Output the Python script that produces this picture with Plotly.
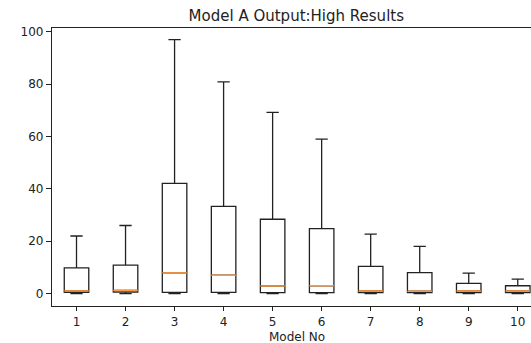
import plotly.graph_objects as go

models = [1, 2, 3, 4, 5, 6, 7, 8, 9, 10]
lower_whisker = [0.0, 0.0, 0.0, 0.0, 0.0, 0.0, 0.0, 0.0, 0.0, 0.0]
q1 = [0.5, 0.6, 0.5, 0.5, 0.4, 0.4, 0.4, 0.4, 0.4, 0.4]
median = [1.0, 1.2, 7.9, 7.0, 2.9, 3.0, 1.0, 0.9, 1.0, 1.0]
q3 = [9.8, 10.9, 42.1, 33.3, 28.4, 24.8, 10.4, 8.0, 3.9, 3.0]
upper_whisker = [22.0, 26.0, 97.0, 80.9, 69.2, 59.0, 22.7, 18.0, 7.8, 5.5]
y_ticks = [0, 20, 40, 60, 80, 100]

BOX_W = 0.5
FONT = "DejaVu Sans"
INK = "#222222"

fig = go.Figure()
fig.add_trace(go.Box(
    x=models, q1=q1, median=median, q3=q3,
    lowerfence=lower_whisker, upperfence=upper_whisker,
    width=BOX_W, whiskerwidth=0.5,
    line=dict(color=INK, width=1.3),
    fillcolor="rgba(0,0,0,0)",
    boxpoints=False, hoverinfo="skip", showlegend=False,
))

mx, my = [], []
for m, med in zip(models, median):
    mx += [m - BOX_W / 2, m + BOX_W / 2, None]
    my += [med, med, None]
fig.add_trace(go.Scatter(x=mx, y=my, mode="lines",
                         line=dict(color="#ff9a40", width=1.5),
                         hoverinfo="skip", showlegend=False))

fig.update_layout(
    width=531, height=343,
    margin=dict(l=52, r=0, t=28, b=37),
    paper_bgcolor="white", plot_bgcolor="white",
    font=dict(family=FONT, color=INK, size=12),
    title=dict(text="Model A Output:High Results", x=0.558, xanchor="center",
               y=1 - 16 / 343, yanchor="middle",
               font=dict(size=15, family=FONT, color=INK)),
    xaxis=dict(range=[0.5, 10.27], tickmode="array", tickvals=models,
               ticktext=[str(m) for m in models],
               showline=True, mirror=True, linecolor=INK, linewidth=1.3,
               ticks="outside", ticklen=4, tickcolor=INK, showgrid=False,
               zeroline=False),
    yaxis=dict(range=[-4.74, 101.45], tickmode="array", tickvals=y_ticks,
               showline=True, mirror=False, linecolor=INK, linewidth=1.3,
               ticks="outside", ticklen=5, tickcolor=INK, showgrid=False,
               zeroline=False),
    annotations=[dict(text="Model No", xref="paper", yref="paper",
                      x=0.5115, y=-0.112, xanchor="center", yanchor="middle",
                      showarrow=False, font=dict(size=12, family=FONT, color=INK))],
)

fig.write_html("out.html")
